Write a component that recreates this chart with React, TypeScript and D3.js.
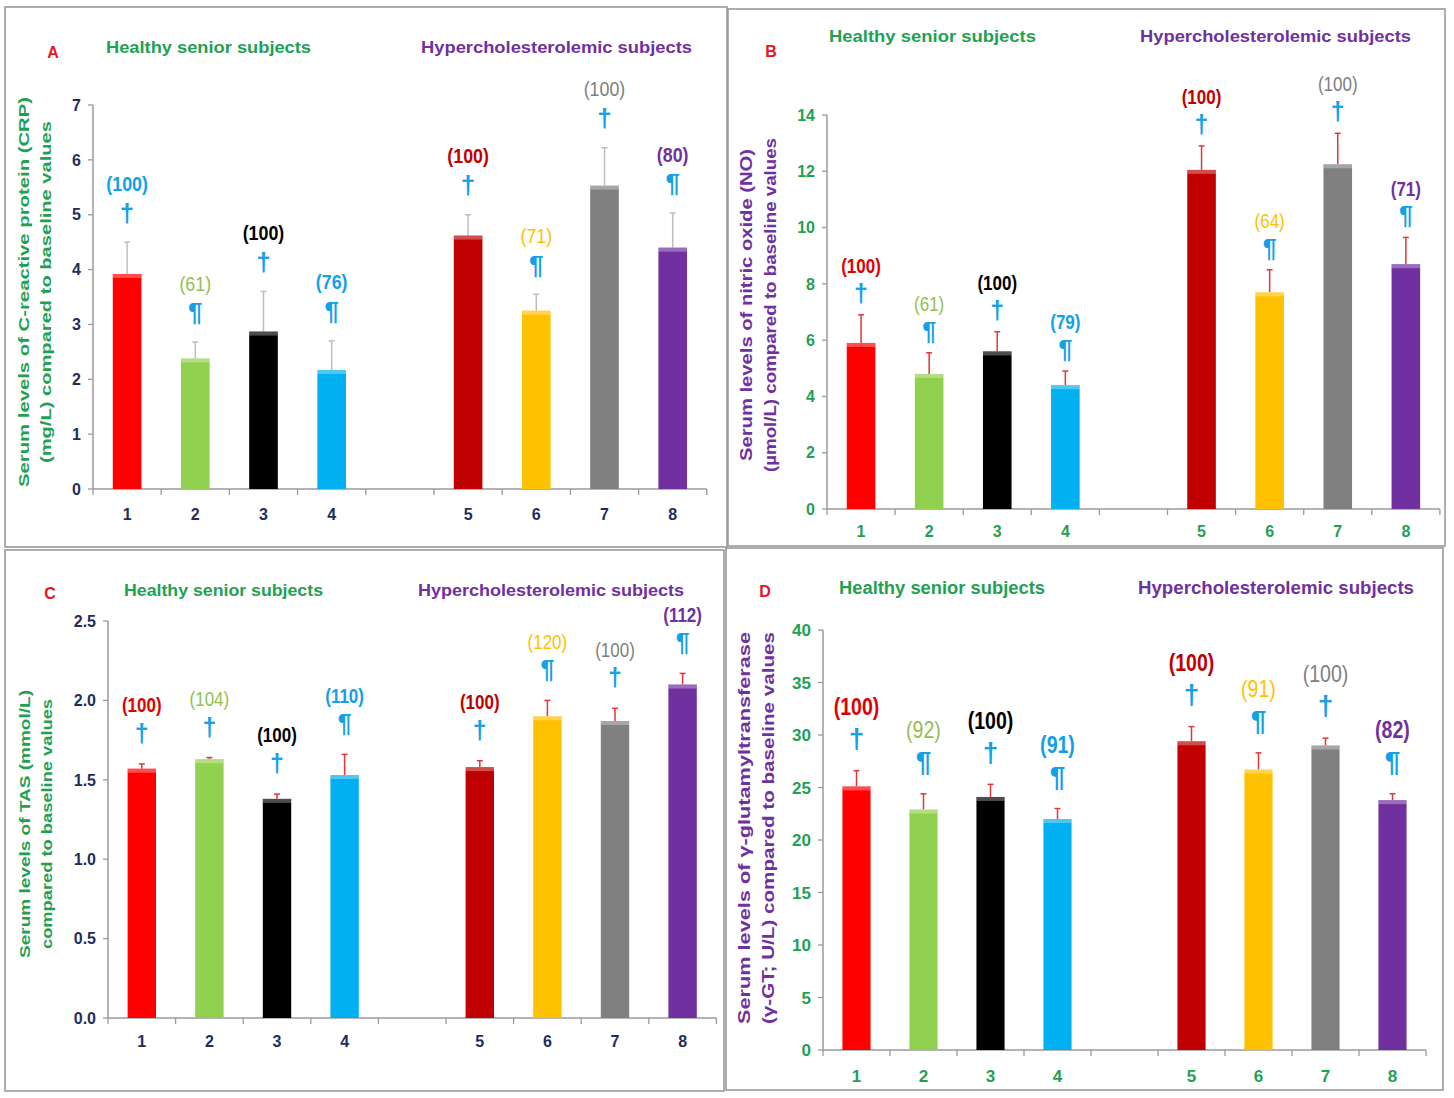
import React from 'react';
import * as d3 from 'd3';

// ---------- data ----------
const slotKeys = ['1', '2', '3', '4', 'gap', '5', '6', '7', '8'];
const groupKeys = ['1', '2', '3', '4', '5', '6', '7', '8'];
const barColors = ['#FF0000', '#92D050', '#000000', '#00B0F0', '#C00000', '#FFC000', '#808080', '#7030A0'];

const crpMeans = [3.92, 2.38, 2.87, 2.17, 4.62, 3.25, 5.53, 4.4];
const crpSD = [0.58, 0.3, 0.73, 0.53, 0.38, 0.3, 0.69, 0.63];
const crpLabels = ['(100)', '(61)', '(100)', '(76)', '(100)', '(71)', '(100)', '(80)'];
const crpSymbols = ['†', '¶', '†', '¶', '†', '¶', '†', '¶'];

const noMeans = [5.9, 4.8, 5.6, 4.4, 12.05, 7.7, 12.25, 8.7];
const noSD = [1.0, 0.75, 0.7, 0.5, 0.85, 0.8, 1.1, 0.95];
const noLabels = ['(100)', '(61)', '(100)', '(79)', '(100)', '(64)', '(100)', '(71)'];
const noSymbols = ['†', '¶', '†', '¶', '†', '¶', '†', '¶'];

const tasMeans = [1.57, 1.63, 1.38, 1.53, 1.58, 1.9, 1.87, 2.1];
const tasSD = [0.03, 0.01, 0.03, 0.13, 0.04, 0.1, 0.08, 0.07];
const tasLabels = ['(100)', '(104)', '(100)', '(110)', '(100)', '(120)', '(100)', '(112)'];
const tasSymbols = ['†', '†', '†', '¶', '†', '¶', '†', '¶'];

const ggtMeans = [25.1, 22.9, 24.1, 22.0, 29.4, 26.7, 29.0, 23.8];
const ggtSD = [1.5, 1.5, 1.2, 1.0, 1.4, 1.6, 0.7, 0.6];
const ggtLabels = ['(100)', '(92)', '(100)', '(91)', '(100)', '(91)', '(100)', '(82)'];
const ggtSymbols = ['†', '¶', '†', '¶', '†', '¶', '†', '¶'];

const crpTicks = [0, 1, 2, 3, 4, 5, 6, 7];
const noTicks = [0, 2, 4, 6, 8, 10, 12, 14];
const tasTicks = [0, 0.5, 1.0, 1.5, 2.0, 2.5];
const ggtTicks = [0, 5, 10, 15, 20, 25, 30, 35, 40];

const healthyTitle = 'Healthy senior subjects';
const hyperTitle = 'Hypercholesterolemic subjects';
const hyperTitle2 = 'Hypercholesterolemic  subjects';

// ---------- styles ----------
const GREEN = '#1FA152';
const PURPLE = '#7030A0';
const NAVY = '#1F2D5C';
const SYMBLUE = '#12A0E6';
const FONT = "'Liberation Sans', Arial, sans-serif";

const labelColorsA = [SYMBLUE, '#92C050', '#000000', SYMBLUE, '#C00000', '#FFC000', '#808080', PURPLE];
const labelColorsB = ['#E00000', '#92C050', '#000000', SYMBLUE, '#C00000', '#FFC000', '#808080', PURPLE];

type PanelCfg = {
  letter: string;
  frame: [number, number, number, number];
  letterPos: [number, number];
  axisX: number;
  yTop: number;
  yBottom: number;
  slot: number;
  max: number;
  ticks: number[];
  fmt: (v: number) => string;
  tickColor: string;
  tickFs: number;
  xLabelY: number;
  means: number[];
  sd: number[];
  labels: string[];
  labelColors: string[];
  symbols: string[];
  errColor: string;
  symOff: number;
  labOff: number;
  labFs: number;
  headers: { text: string; x: number; y: number; w: number; color: string; fs: number }[];
  yTitle: { lines: string[]; xs: number[]; cy: number; lens: number[]; color: string; fs: number };
};

const panels: PanelCfg[] = [
  {
    letter: 'A', frame: [5, 7, 727, 547], letterPos: [53, 52],
    axisX: 93, yTop: 105, yBottom: 489, slot: 68.2, max: 7, ticks: crpTicks, fmt: d3.format('d'),
    tickColor: NAVY, tickFs: 16, xLabelY: 514,
    means: crpMeans, sd: crpSD, labels: crpLabels, labelColors: labelColorsA, symbols: crpSymbols,
    errColor: '#BDBDBD', symOff: 29, labOff: 30, labFs: 21,
    headers: [
      { text: healthyTitle, x: 106, y: 47, w: 205, color: GREEN, fs: 17 },
      { text: hyperTitle, x: 421, y: 47, w: 271, color: PURPLE, fs: 17 },
    ],
    yTitle: {
      lines: ['Serum levels of C-reactive protein (CRP)', '(mg/L) compared to baseline values'],
      xs: [24, 46], cy: 292, lens: [390, 342], color: GREEN, fs: 15,
    },
  },
  {
    letter: 'B', frame: [728, 9, 1445, 546], letterPos: [771, 51],
    axisX: 827, yTop: 115, yBottom: 509, slot: 68.1, max: 14, ticks: noTicks, fmt: d3.format('d'),
    tickColor: GREEN, tickFs: 16, xLabelY: 531,
    means: noMeans, sd: noSD, labels: noLabels, labelColors: labelColorsB, symbols: noSymbols,
    errColor: '#E53535', symOff: 21, labOff: 28, labFs: 20,
    headers: [
      { text: healthyTitle, x: 829, y: 36, w: 207, color: GREEN, fs: 17 },
      { text: hyperTitle, x: 1140, y: 36, w: 271, color: PURPLE, fs: 17 },
    ],
    yTitle: {
      lines: ['Serum levels of nitric oxide (NO)', '(µmol/L) compared to baseline values'],
      xs: [746, 770], cy: 305, lens: [312, 334], color: PURPLE, fs: 16,
    },
  },
  {
    letter: 'C', frame: [5, 550, 724, 1091], letterPos: [50, 593],
    axisX: 108, yTop: 621, yBottom: 1018, slot: 67.6, max: 2.5, ticks: tasTicks, fmt: d3.format('.1f'),
    tickColor: NAVY, tickFs: 16, xLabelY: 1041,
    means: tasMeans, sd: tasSD, labels: tasLabels, labelColors: labelColorsB, symbols: tasSymbols,
    errColor: '#E53535', symOff: 30, labOff: 29, labFs: 20,
    headers: [
      { text: healthyTitle, x: 124, y: 590, w: 199, color: GREEN, fs: 16 },
      { text: hyperTitle2, x: 418, y: 590, w: 266, color: PURPLE, fs: 16 },
    ],
    yTitle: {
      lines: ['Serum levels of TAS (mmol/L)', 'compared to baseline values'],
      xs: [25, 47], cy: 824, lens: [268, 250], color: GREEN, fs: 15,
    },
  },
  {
    letter: 'D', frame: [726, 548, 1443, 1090], letterPos: [765, 591],
    axisX: 823, yTop: 630, yBottom: 1050, slot: 67.0, max: 40, ticks: ggtTicks, fmt: d3.format('d'),
    tickColor: GREEN, tickFs: 17, xLabelY: 1076,
    means: ggtMeans, sd: ggtSD, labels: ggtLabels, labelColors: labelColorsB, symbols: ggtSymbols,
    errColor: '#E53535', symOff: 32, labOff: 32, labFs: 23,
    headers: [
      { text: healthyTitle, x: 839, y: 588, w: 206, color: GREEN, fs: 18 },
      { text: hyperTitle2, x: 1138, y: 588, w: 276, color: PURPLE, fs: 18 },
    ],
    yTitle: {
      lines: ['Serum levels of γ-glutamyltransferase', '(γ-GT; U/L) compared to baseline values'],
      xs: [744, 768], cy: 828, lens: [392, 392], color: PURPLE, fs: 17,
    },
  },
];

const boldColors = new Set(['#E00000', '#C00000', '#000000', SYMBLUE, PURPLE]);

function Panel({ p }: { p: PanelCfg }) {
  const x = d3.scaleBand<string>().domain(slotKeys).range([p.axisX, p.axisX + p.slot * slotKeys.length]).paddingInner(0);
  const y = d3.scaleLinear().domain([0, p.max]).range([p.yBottom, p.yTop]);
  const bw = x.bandwidth() * 0.42;
  const xEnd = p.axisX + p.slot * slotKeys.length;
  const [fx0, fy0, fx1, fy1] = p.frame;
  const boundaries = d3.range(slotKeys.length + 1).map((i) => p.axisX + i * x.bandwidth());
  return (
    <g>
      <rect x={fx0} y={fy0} width={fx1 - fx0} height={fy1 - fy0} fill="#fff" stroke="#9a9a9a" strokeWidth={1.6} />
      <text x={p.letterPos[0]} y={p.letterPos[1] + 6} fill="#E8141E" fontSize={16} fontWeight="bold" fontFamily={FONT} textAnchor="middle">{p.letter}</text>
      {p.headers.map((h, i) => (
        <text key={i} x={h.x} y={h.y + 6} fill={h.color} fontSize={h.fs} fontWeight="bold" fontFamily={FONT}
          textLength={h.w} lengthAdjust="spacingAndGlyphs">{h.text}</text>
      ))}
      {p.yTitle.lines.map((t, i) => (
        <text key={i} transform={`translate(${p.yTitle.xs[i] + p.yTitle.fs * 0.35},${p.yTitle.cy}) rotate(-90)`}
          fill={p.yTitle.color} fontSize={p.yTitle.fs} fontWeight="bold" fontFamily={FONT} textAnchor="middle"
          textLength={p.yTitle.lens[i]} lengthAdjust="spacingAndGlyphs">{t}</text>
      ))}
      <line x1={p.axisX} x2={p.axisX} y1={y(p.max)} y2={y(0)} stroke="#9a9a9a" strokeWidth={1.5} />
      <line x1={p.axisX} x2={xEnd} y1={y(0)} y2={y(0)} stroke="#9a9a9a" strokeWidth={1.5} />
      {p.ticks.map((t) => (
        <g key={t}>
          <line x1={p.axisX - 5} x2={p.axisX} y1={y(t)} y2={y(t)} stroke="#9a9a9a" strokeWidth={1.3} />
          <text x={p.axisX - 12} y={y(t) + p.tickFs * 0.36} fill={p.tickColor} fontSize={p.tickFs} fontWeight="bold"
            fontFamily={FONT} textAnchor="end">{p.fmt(t)}</text>
        </g>
      ))}
      {boundaries.map((b, i) => (
        <line key={i} x1={b} x2={b} y1={y(0)} y2={y(0) + 6} stroke="#9a9a9a" strokeWidth={1.3} />
      ))}
      {groupKeys.map((g, i) => {
        const cx = (x(g) as number) + x.bandwidth() / 2;
        const top = y(p.means[i]);
        const errTop = y(p.means[i] + p.sd[i]);
        const symY = errTop - p.symOff;
        const labY = symY - p.labOff;
        const lc = p.labelColors[i];
        return (
          <g key={g}>
            <line x1={cx} x2={cx} y1={top} y2={errTop} stroke={p.errColor} strokeWidth={1.5} />
            <line x1={cx - 3} x2={cx + 3} y1={errTop} y2={errTop} stroke={p.errColor} strokeWidth={1.5} />
            <rect x={cx - bw / 2} y={top} width={bw} height={y(0) - top} fill={barColors[i]} />
            <rect x={cx - bw / 2} y={top} width={bw} height={4} fill="#ffffff" opacity={0.3} />
            <text x={cx} y={p.xLabelY + p.tickFs * 0.36} fill={p.tickColor} fontSize={p.tickFs} fontWeight="bold"
              fontFamily={FONT} textAnchor="middle">{g}</text>
            <text x={cx} y={symY + p.labFs * 0.4} fill={SYMBLUE} fontSize={p.labFs + 5} fontWeight="bold"
              fontFamily={FONT} textAnchor="middle">{p.symbols[i]}</text>
            <text x={cx} y={labY + p.labFs * 0.36} fill={lc} fontSize={p.labFs}
              fontWeight={boldColors.has(lc) ? 'bold' : 'normal'} fontFamily={FONT} textAnchor="middle"
              transform={`translate(${cx},0) scale(0.85,1) translate(${-cx},0)`}>{p.labels[i]}</text>
          </g>
        );
      })}
    </g>
  );
}

export default function App() {
  return (
    <svg width={1454} height={1098} style={{ position: 'absolute', left: 0, top: 0, background: '#fff' }}>
      <rect x={0} y={0} width={1454} height={1098} fill="#fff" />
      {panels.map((p) => (
        <Panel key={p.letter} p={p} />
      ))}
    </svg>
  );
}
